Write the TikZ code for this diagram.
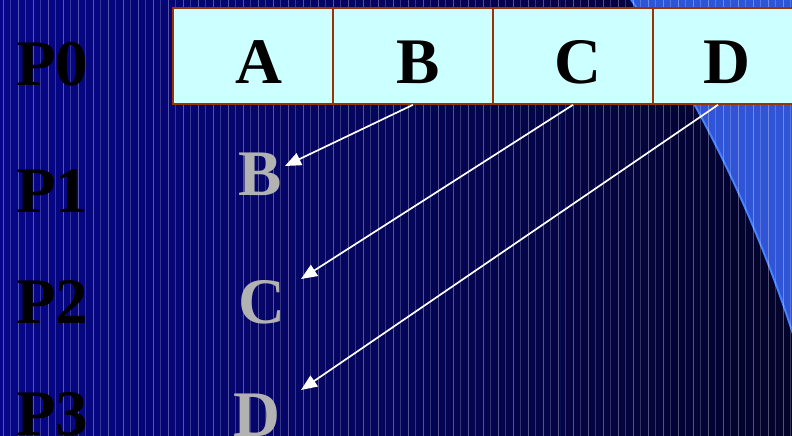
\documentclass[tikz,border=0pt]{standalone}
\usepackage{fontspec}
\setmainfont{Liberation Serif}
\usetikzlibrary{arrows.meta}
\definecolor{bgleft}{RGB}{6,6,138}
\definecolor{bgright}{RGB}{3,3,42}
\definecolor{wave}{RGB}{48,84,214}
\definecolor{waveedge}{RGB}{70,130,255}
\definecolor{boxfill}{RGB}{204,255,255}
\definecolor{boxline}{RGB}{153,51,0}
\definecolor{ghost}{RGB}{178,178,178}
\tikzset{
  cell/.style={draw=boxline, line width=1.6pt, fill=boxfill, minimum width=160pt, minimum height=96pt, inner sep=0pt},
  big/.style={font=\fontsize{65}{65}\selectfont\bfseries, inner sep=0pt, anchor=base},
  plabel/.style={big, anchor=base west, text=black},
  inletter/.style={big, text=black},
  ghostletter/.style={big, text=ghost},
  move/.style={draw=white, line width=1.7pt, -{Triangle[length=16pt,width=13pt]}}
}
\begin{document}
\begin{tikzpicture}[x=1pt,y=-1pt]
\useasboundingbox (0,0) rectangle (792,436);
\clip (0,0) rectangle (792,436);
% background
\shade[left color=bgleft, right color=bgright] (0,0) rectangle (792,436);
% blue wave at right
\begin{scope}
  \clip (560,-2) rectangle (794,438);
  \fill[wave, even odd rule] (560,-2) rectangle (794,438) (-496.6,751) circle (1355);
  \draw[waveedge, line width=2pt] (-496.6,751) circle (1355);
\end{scope}
% stripes
\foreach \i in {0,...,105} {
  \pgfmathsetmacro{\xx}{3+7.5*\i}
  \pgfmathsetmacro{\op}{mod(\i,2)==0 ? 0.32 : 0.2}
  \draw[white, opacity=\op, line width=0.8pt] (\xx,0) -- (\xx,436);
}
% labels P0..P3
\node[plabel] (p0) at (16,85) {P0};
\node[plabel] (p1) at (16,212) {P1};
\node[plabel] (p2) at (16,323) {P2};
\node[plabel] (p3) at (16,435) {P3};
% boxes
\node[cell] (boxA) at (253,56) {};
\node[cell] (boxB) at (413,56) {};
\node[cell] (boxC) at (573,56) {};
\node[cell] (boxD) at (733,56) {};
\node[inletter] (lA) at (259,83) {A};
\node[inletter] (lB) at (418,83) {B};
\node[inletter] (lC) at (578,83) {C};
\node[inletter] (lD) at (727,83) {D};
% ghost letters
\node[ghostletter] (gB) at (260,195) {B};
\node[ghostletter] (gC) at (262,323) {C};
\node[ghostletter] (gD) at (257,436) {D};
% arrow tips
\coordinate (tipB) at (285,166);
\coordinate (tipC) at (301,279);
\coordinate (tipD) at (301,390);
\draw[move] (boxB.south) -- (tipB);
\draw[move] (boxC.south) -- (tipC);
\draw[move] ([xshift=-15pt]boxD.south) -- (tipD);
\end{tikzpicture}
\end{document}
